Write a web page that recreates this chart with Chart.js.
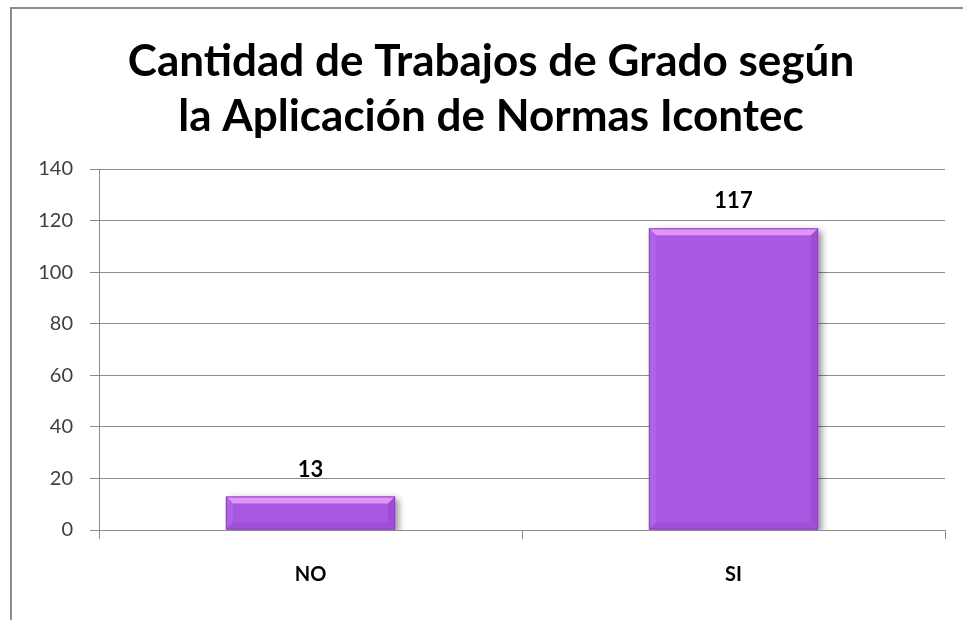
<!DOCTYPE html>
<html>
<head>
<meta charset="utf-8">
<style>
  html, body { margin: 0; padding: 0; background: #fff; }
  #wrap { position: absolute; left: 0; top: 0; width: 963px; height: 620px; }
</style>
<script src="https://cdn.jsdelivr.net/npm/chart.js@4.4.0/dist/chart.umd.min.js"></script>
</head>
<body>
<div id="wrap"><canvas id="grafico" width="963" height="620"></canvas></div>
<script>
// datos del gráfico
const categorias = ['NO', 'SI'];
const cantidades = [13, 117];
const titulo = ['Cantidad de Trabajos de Grado según', 'la Aplicación de Normas Icontec'];
const ejeMin = 0, ejeMax = 140, paso = 20;

const morado = '#aa57e4';

// borde exterior (solo izquierda y arriba visibles)
const bordePlugin = {
    id: 'borde',
    beforeDraw(chart) {
        const ctx = chart.ctx;
        ctx.save();
        ctx.strokeStyle = '#8c8c8c';
        ctx.lineWidth = 2;
        ctx.beginPath();
        ctx.moveTo(11, 620);
        ctx.lineTo(11, 8);
        ctx.lineTo(963, 8);
        ctx.stroke();
        ctx.restore();
    }
};

// sombra de las barras
const sombraPlugin = {
    id: 'sombra',
    beforeDatasetDraw(chart) {
        const ctx = chart.ctx;
        ctx.save();
        ctx.shadowColor = 'rgba(0,0,0,0.45)';
        ctx.shadowBlur = 7;
        ctx.shadowOffsetX = 4;
        ctx.shadowOffsetY = 3;
    },
    afterDatasetDraw(chart) {
        chart.ctx.restore();
    }
};

// bisel y etiquetas de valor
const biselPlugin = {
    id: 'bisel',
    afterDatasetsDraw(chart) {
        const ctx = chart.ctx;
        const meta = chart.getDatasetMeta(0);
        meta.data.forEach((bar, i) => {
            const l = bar.x - bar.width / 2, r = bar.x + bar.width / 2;
            const t = bar.y, b = bar.base;
            const d = Math.min(7, (b - t) / 2);
            ctx.save();
            // arriba claro
            ctx.fillStyle = '#e096f7';
            ctx.beginPath();
            ctx.moveTo(l, t); ctx.lineTo(r, t); ctx.lineTo(r - d, t + d); ctx.lineTo(l + d, t + d);
            ctx.closePath(); ctx.fill();
            // izquierda
            ctx.fillStyle = '#b262e8';
            ctx.beginPath();
            ctx.moveTo(l, t); ctx.lineTo(l + d, t + d); ctx.lineTo(l + d, b - d); ctx.lineTo(l, b);
            ctx.closePath(); ctx.fill();
            // derecha oscuro
            ctx.fillStyle = '#9c4dd2';
            ctx.beginPath();
            ctx.moveTo(r, t); ctx.lineTo(r - d, t + d); ctx.lineTo(r - d, b - d); ctx.lineTo(r, b);
            ctx.closePath(); ctx.fill();
            // abajo oscuro
            ctx.fillStyle = '#a050d6';
            ctx.beginPath();
            ctx.moveTo(l, b); ctx.lineTo(l + d, b - d); ctx.lineTo(r - d, b - d); ctx.lineTo(r, b);
            ctx.closePath(); ctx.fill();
            ctx.strokeStyle = '#8e42c4';
            ctx.lineWidth = 1;
            ctx.strokeRect(l + 0.5, t + 0.5, r - l - 1, b - t - 1);
            // etiqueta
            ctx.fillStyle = '#000';
            ctx.font = 'bold 22px Lato';
            ctx.textAlign = 'center';
            ctx.textBaseline = 'middle';
            ctx.fillText(String(cantidades[i]), bar.x, t - 27);
            ctx.restore();
        });
    }
};

const ctx = document.getElementById('grafico').getContext('2d');
const grafico = new Chart(ctx, {
    type: 'bar',
    data: {
        labels: categorias,
        datasets: [{
            data: cantidades,
            backgroundColor: morado,
            borderWidth: 0,
            barPercentage: 0.4,
            categoryPercentage: 1
        }]
    },
    options: {
        responsive: false,
        animation: false,
        layout: { padding: { left: 37, right: 18, top: 34, bottom: 0 } },
        plugins: {
            legend: { display: false },
            tooltip: { enabled: false },
            title: {
                display: true,
                text: titulo,
                color: '#000',
                font: { family: 'Lato', size: 44, weight: 'bold', lineHeight: 1.25 },
                padding: { top: 0, bottom: 25 }
            }
        },
        scales: {
            y: {
                min: ejeMin,
                max: ejeMax,
                afterFit(scale) { scale.width = 62; },
                ticks: {
                    stepSize: paso,
                    padding: 17,
                    color: '#404040',
                    font: { family: 'Lato', size: 20 }
                },
                grid: { color: '#8c8c8c', lineWidth: 1, tickLength: 9 },
                border: { color: '#8c8c8c', width: 1 }
            },
            x: {
                afterFit(scale) { scale.height = 90; },
                ticks: {
                    padding: 24,
                    color: '#000',
                    font: { family: 'Lato', size: 20, weight: 'bold' }
                },
                grid: { offset: true, drawOnChartArea: false, color: '#8c8c8c', tickLength: 9 },
                border: { color: '#8c8c8c', width: 1 }
            }
        }
    },
    plugins: [bordePlugin, sombraPlugin, biselPlugin]
});
</script>
</body>
</html>
